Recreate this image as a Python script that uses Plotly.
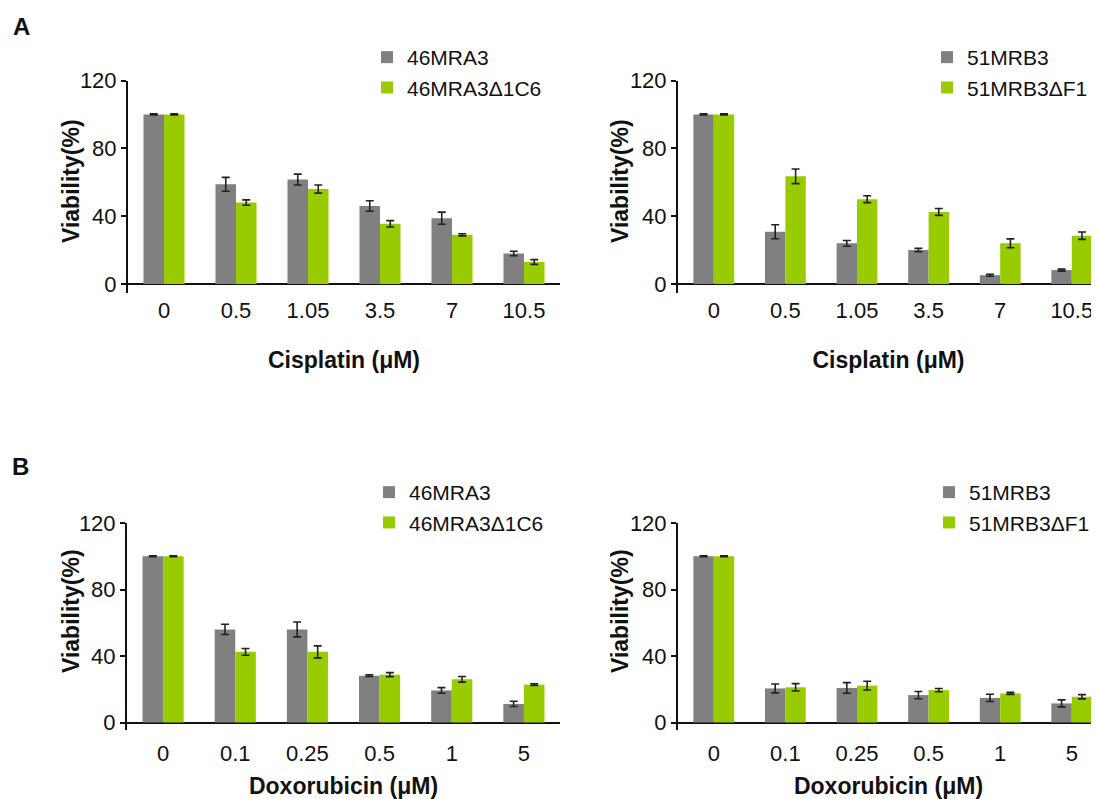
import plotly.graph_objects as go

# ---- data ----
conc_cis = ["0", "0.5", "1.05", "3.5", "7", "10.5"]
conc_dox = ["0", "0.1", "0.25", "0.5", "1", "5"]

a1_ctrl = [100, 58.8, 61.6, 46.0, 38.8, 18.0]
a1_ctrl_err = [0.3, 4.1, 3.2, 3.1, 3.6, 1.3]
a1_ko = [100, 48.0, 56.0, 35.5, 29.0, 13.0]
a1_ko_err = [0.3, 1.6, 2.4, 1.9, 0.6, 1.4]

a2_ctrl = [100, 30.8, 24.0, 20.0, 5.2, 8.2]
a2_ctrl_err = [0.3, 4.1, 1.7, 1.0, 0.6, 0.6]
a2_ko = [100, 63.5, 50.0, 42.5, 24.0, 28.5]
a2_ko_err = [0.3, 4.3, 2.0, 2.0, 2.6, 2.2]

b1_ctrl = [100, 56.0, 56.0, 28.2, 19.3, 11.2]
b1_ctrl_err = [0.3, 3.1, 4.5, 0.5, 1.7, 1.6]
b1_ko = [100, 42.5, 42.5, 28.8, 26.0, 22.8]
b1_ko_err = [0.3, 2.0, 3.6, 1.2, 1.7, 0.5]

b2_ctrl = [100, 20.5, 20.8, 16.5, 14.8, 11.5]
b2_ctrl_err = [0.3, 2.7, 3.2, 2.2, 2.2, 2.1]
b2_ko = [100, 21.2, 22.2, 19.5, 17.5, 15.5]
b2_ko_err = [0.3, 2.2, 2.6, 1.0, 0.6, 1.3]

names_a = ["46MRA3", "46MRA3\u03941C6"]
names_b = ["51MRB3", "51MRB3\u0394F1"]
y_title = "Viability(%)"

GRAY = "#808080"
GREEN = "#99cc00"
FONT = "Arial, Liberation Sans, sans-serif"
OFF = 8  # page body margin
W, H = 1099 - OFF, 799 - OFF

fig = go.Figure()

panels = [
    (conc_cis, a1_ctrl, a1_ctrl_err, a1_ko, a1_ko_err, names_a, "", "legend"),
    (conc_cis, a2_ctrl, a2_ctrl_err, a2_ko, a2_ko_err, names_b, "2", "legend2"),
    (conc_dox, b1_ctrl, b1_ctrl_err, b1_ko, b1_ko_err, names_a, "3", "legend3"),
    (conc_dox, b2_ctrl, b2_ctrl_err, b2_ko, b2_ko_err, names_b, "4", "legend4"),
]

for cats, c, ce, k, ke, nm, sfx, lg in panels:
    for vals, errs, name, col in ((c, ce, nm[0], GRAY), (k, ke, nm[1], GREEN)):
        fig.add_trace(go.Bar(
            x=cats, y=vals, name=name, marker=dict(color=col, line=dict(width=0)),
            error_y=dict(type="data", array=errs, visible=True, color="#222222",
                         thickness=1.6, width=4),
            xaxis="x" + sfx, yaxis="y" + sfx, legend=lg,
        ))


def px_x(p):
    return (p - OFF) / W


def px_y(p):
    return 1 - (p - OFF) / H


tickfont = dict(family=FONT, size=22, color="#111111")
titlefont = dict(family=FONT, size=23, color="#111111", weight="bold")

# x-left, x-right, y-top, y-bottom (reference pixels), y-min, x-max, title, label standoff, title standoff
specs = {
    "": (128, 560, 80.5, 293, -5.3, 5.5, "Cisplatin (\u03bcM)", 2, 29),
    "2": (678, 1099, 80.5, 293, -5.3, 5.38, "Cisplatin (\u03bcM)", 2, 29),
    "3": (127, 560, 523, 730, -4.5, 5.5, "Doxorubicin (\u03bcM)", 8, 15),
    "4": (678, 1099, 523, 730, -4.5, 5.38, "Doxorubicin (\u03bcM)", 8, 15),
}

for sfx, (xl, xr, yt, yb, ymin, xmax, xtitle, tstand, xstand) in specs.items():
    fig.layout["xaxis" + sfx] = dict(
        domain=[px_x(xl), min(1.0, px_x(xr))], anchor="y" + sfx, range=[-0.5, xmax],
        showline=False, showgrid=False, zeroline=False, ticks="",
        tickfont=tickfont, ticklabelstandoff=tstand, automargin=False,
        title=dict(text=xtitle, font=titlefont, standoff=xstand),
    )
    fig.layout["yaxis" + sfx] = dict(
        domain=[px_y(yb), px_y(yt)], anchor="x" + sfx, range=[ymin, 120],
        tickvals=[0, 40, 80, 120], showgrid=False, showline=True,
        linecolor="#111111", linewidth=2, ticks="outside", ticklen=5,
        tickwidth=2, tickcolor="#111111", tickfont=tickfont,
        ticklabelstandoff=0,
        zeroline=True, zerolinecolor="#111111", zerolinewidth=2,
        automargin=False,
    )

legend_common = dict(font=dict(family=FONT, size=21, color="#111111"),
                     bgcolor="rgba(0,0,0,0)", xanchor="left", yanchor="top",
                     tracegroupgap=0, itemclick=False)
fig.layout.legend = dict(x=px_x(367), y=px_y(37), **legend_common)
fig.layout.legend2 = dict(x=px_x(927), y=px_y(37), **legend_common)
fig.layout.legend3 = dict(x=px_x(369), y=px_y(472), **legend_common)
fig.layout.legend4 = dict(x=px_x(929), y=px_y(472), **legend_common)

annotations = [
    dict(text="<b>A</b>", x=px_x(11), y=px_y(26), xref="paper", yref="paper",
         xanchor="left", yanchor="middle", showarrow=False,
         font=dict(family=FONT, size=24, color="#111111")),
    dict(text="<b>B</b>", x=px_x(10), y=px_y(466), xref="paper", yref="paper",
         xanchor="left", yanchor="middle", showarrow=False,
         font=dict(family=FONT, size=24, color="#111111")),
]
# y-axis titles (centre positions in reference pixels)
for xc, yc in ((71, 181), (620, 181), (71, 611), (620, 611)):
    annotations.append(dict(
        text=y_title, x=px_x(xc), y=px_y(yc), xref="paper", yref="paper",
        xanchor="center", yanchor="middle", textangle=-90, showarrow=False,
        font=titlefont))

fig.update_layout(
    width=W, height=H, margin=dict(l=0, r=0, t=0, b=0),
    paper_bgcolor="white", plot_bgcolor="white",
    barmode="group", bargap=0.43, bargroupgap=0,
    showlegend=True,
    annotations=annotations,
)

fig.write_html("out.html")
